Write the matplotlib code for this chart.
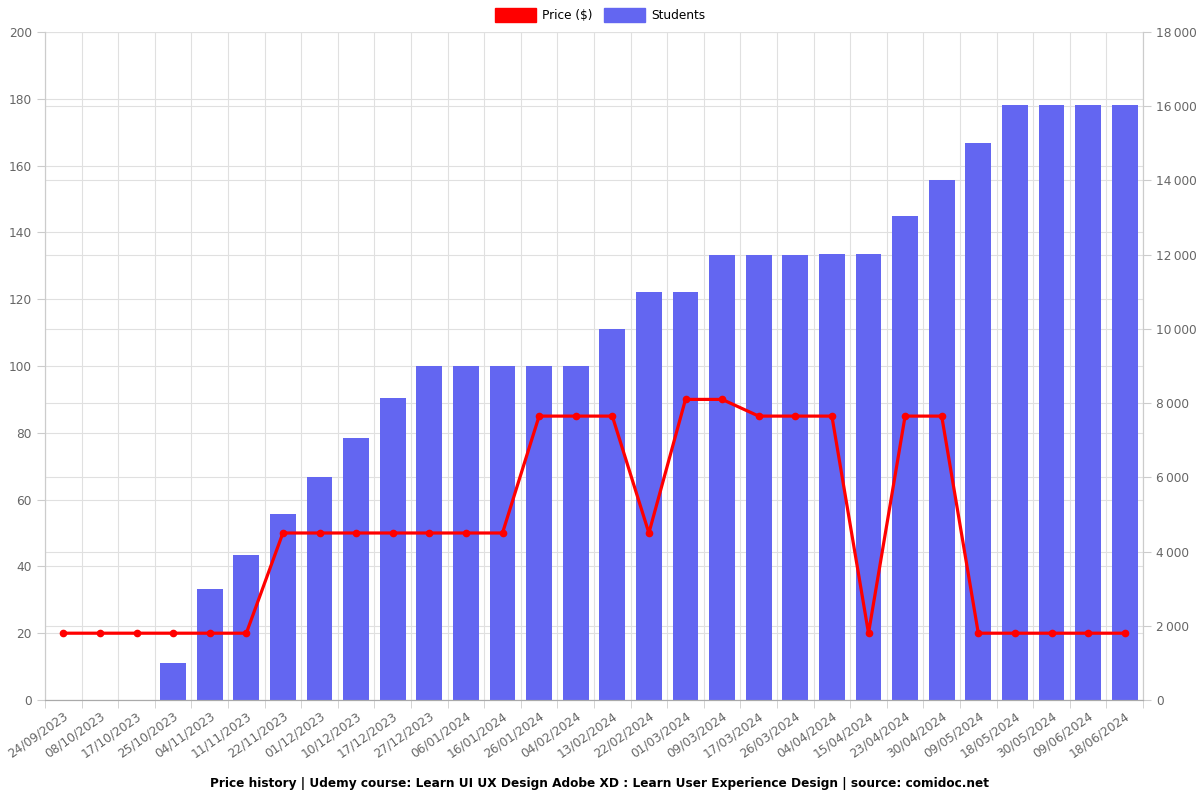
import matplotlib
matplotlib.use("Agg")
import matplotlib.pyplot as plt
from matplotlib.patches import Patch
import numpy as np

dates = ["24/09/2023", "08/10/2023", "17/10/2023", "25/10/2023", "04/11/2023", "11/11/2023",
         "22/11/2023", "01/12/2023", "10/12/2023", "17/12/2023", "27/12/2023", "06/01/2024",
         "16/01/2024", "26/01/2024", "04/02/2024", "13/02/2024", "22/02/2024", "01/03/2024",
         "09/03/2024", "17/03/2024", "26/03/2024", "04/04/2024", "15/04/2024", "23/04/2024",
         "30/04/2024", "09/05/2024", "18/05/2024", "30/05/2024", "09/06/2024", "18/06/2024"]
price = [20, 20, 20, 20, 20, 20, 50, 50, 50, 50, 50, 50, 50, 85, 85, 85, 50, 90, 90, 85,
         85, 85, 20, 85, 85, 20, 20, 20, 20, 20]
students = [0, 0, 0, 1000, 3000, 3900, 5000, 6000, 7050, 8150, 9000, 9000, 9000, 9000, 9000,
            10000, 11000, 11000, 12000, 12000, 12000, 12010, 12010, 13050, 14000, 15000,
            16030, 16030, 16040, 16040]

title = "Price history | Udemy course: Learn UI UX Design Adobe XD : Learn User Experience Design | source: comidoc.net"

grid_c = "#e0e0e0"
text_c = "#666666"
bar_c = "#6366f1"
fs = 8.7

fig = plt.figure(figsize=(12, 8), dpi=100)
ax = fig.add_axes([45/1200, 100/800, (1143-45)/1200, (700-32)/800])
ax2 = ax.twinx()

n = len(dates)
x = np.arange(n)

p_max, s_max = 200, 18000
ax2.set_ylim(0, s_max)
ax2.set_yticks(np.arange(0, s_max + 1, 2000))
ax2.set_yticklabels([f"{v:,}".replace(",", "\u2009") for v in range(0, s_max + 1, 2000)])
ax2.grid(True, axis="y", color=grid_c, lw=0.8, zorder=0)
ax2.set_axisbelow(True)
# left-axis horizontal grid, drawn beneath the bars
for v in np.arange(20, p_max + 1, 20):
    ax2.axhline(v * s_max / p_max, color=grid_c, lw=0.8, zorder=0)
for b in np.arange(-0.5, n, 1):
    ax2.axvline(b, color=grid_c, lw=0.8, zorder=0)
ax2.bar(x, students, width=0.7, color=bar_c, zorder=2)

ax.set_zorder(ax2.get_zorder() + 1)
ax.patch.set_visible(False)
ax.plot(x, price, color="#ff0000", lw=2.3, marker="o", ms=4.5, zorder=5)
ax.set_ylim(0, p_max)
ax.set_yticks(np.arange(0, p_max + 1, 20))
ax.set_xlim(-0.5, n - 0.5)

ax.set_xticks(x)
ax.set_xticklabels(dates, rotation=35, ha="right", rotation_mode="anchor")
ax.tick_params(axis="x", length=0, pad=7, labelsize=fs, colors=text_c)
ax.set_xticks(np.arange(-0.5, n, 1), minor=True)
ax.tick_params(axis="x", which="minor", length=6, color="#cccccc")

ax.tick_params(axis="y", labelsize=fs, colors=text_c, length=6, color="#cccccc")
ax2.tick_params(axis="y", labelsize=fs, colors=text_c, length=6, color="#cccccc")

for a in (ax, ax2):
    a.spines["top"].set_visible(False)
    a.spines["left"].set_color("#cccccc")
    a.spines["right"].set_color("#cccccc")
    a.spines["bottom"].set_color("#aaaaaa")

handles = [Patch(facecolor="#ff0000", edgecolor="#ff0000"), Patch(facecolor=bar_c, edgecolor=bar_c)]
fig.legend(handles, ["Price ($)", "Students"], loc="center", bbox_to_anchor=(0.5, 1 - 15/800),
           ncol=2, frameon=False, fontsize=fs, handlelength=3.4, handleheight=1.4,
           columnspacing=1.0, handletextpad=0.5)

fig.text(0.5, 1 - 783/800, title, ha="center", va="center", fontsize=fs, fontweight="bold")

fig.savefig("out.png", dpi=100)
